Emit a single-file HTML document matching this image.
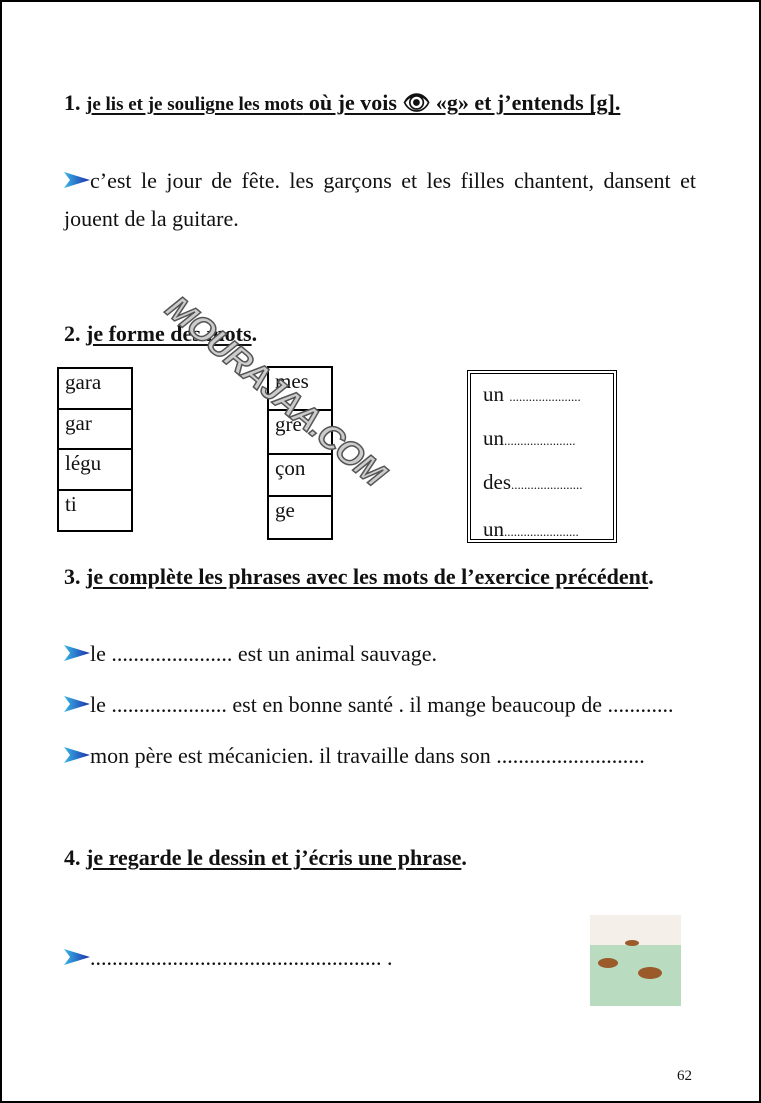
<!DOCTYPE html><html><head><meta charset="utf-8"><style>
body{margin:0;width:761px;height:1103px;position:relative;background:#fff;font-family:"Liberation Serif","Tinos","Times New Roman",Times,serif;color:#111;overflow:hidden}
.frame{position:absolute;left:0;top:0;width:757px;height:1099px;border:2px solid #000}
.a{position:absolute;white-space:nowrap}
.h{font-weight:bold;font-size:22px}
.h u{text-decoration-thickness:2px;text-underline-offset:3px}
.t{font-size:22px}
.arr{display:inline-block;width:26px;height:16px;vertical-align:0px}
table{position:absolute;border-collapse:collapse}
td{border:2px solid #000;font-size:21px;vertical-align:top;padding:1px 6px;box-sizing:border-box;font-family:inherit}
.box{position:absolute;left:467px;top:370px;width:150px;height:173px;border:4px double #000;box-sizing:border-box;font-size:21px}
.box div{position:absolute;left:12px}
.box span{font-size:13px}
.wm{position:absolute;left:125px;top:372px;width:300px;text-align:center;transform:rotate(40deg);font:bold italic 34px "Liberation Sans",sans-serif;color:#ccc;-webkit-text-stroke:1.5px #555;letter-spacing:-1px}
</style></head><body><div class="frame"></div>
<svg width="0" height="0" style="position:absolute"><defs><linearGradient id="g" x1="0" x2="1"><stop offset="0" stop-color="#3bb6e8"/><stop offset="1" stop-color="#1a2fa8"/></linearGradient></defs></svg>
<div class="a h" style="left:64px;top:90px"><span style="font-size:22px">1.</span>&nbsp;<u><span style="font-size:19px">je lis et je souligne les mots</span> où je vois 👁 «g» et j’entends [g].</u></div>
<div class="a t" style="left:64px;top:168px;width:632px;text-align:justify;text-align-last:justify"><svg class="arr" viewBox="0 0 26 16"><path d="M0 0 L26 8 L0 16 L6 8Z" fill="url(#g)"/></svg>c’est le jour de fête. les garçons et les filles chantent, dansent et</div>
<div class="a t" style="left:64px;top:206px">jouent de la guitare.</div>
<div class="a h" style="left:64px;top:321px"><span>2.</span>&nbsp;<u>je forme des mots</u>.</div>
<table style="left:57px;top:367px;width:76px"><tr><td style="height:41px">gara</td></tr><tr><td style="height:40px">gar</td></tr><tr><td style="height:41px">légu</td></tr><tr><td style="height:41px">ti</td></tr></table>
<table style="left:267px;top:366px;width:66px"><tr><td style="height:43px">mes</td></tr><tr><td style="height:44px">gre</td></tr><tr><td style="height:42px">çon</td></tr><tr><td style="height:43px">ge</td></tr></table>
<div class="box"><div style="top:8px">un <span>......................</span></div><div style="top:52px">un<span>......................</span></div><div style="top:96px">des<span>......................</span></div><div style="top:143px">un<span>.......................</span></div></div>
<div class="wm">MOURAJAA.COM</div>
<div class="a h" style="left:64px;top:564px"><span>3.</span>&nbsp;<u>je complète les phrases avec les mots de l’exercice précédent</u>.</div>
<div class="a t" style="left:64px;top:641px"><svg class="arr" viewBox="0 0 26 16"><path d="M0 0 L26 8 L0 16 L6 8Z" fill="url(#g)"/></svg>le ...................... est un animal sauvage.</div>
<div class="a t" style="left:64px;top:692px"><svg class="arr" viewBox="0 0 26 16"><path d="M0 0 L26 8 L0 16 L6 8Z" fill="url(#g)"/></svg>le ..................... est en bonne santé . il mange beaucoup de ............</div>
<div class="a t" style="left:64px;top:743px"><svg class="arr" viewBox="0 0 26 16"><path d="M0 0 L26 8 L0 16 L6 8Z" fill="url(#g)"/></svg>mon père est mécanicien. il travaille dans son ...........................</div>
<div class="a h" style="left:64px;top:845px"><span>4.</span>&nbsp;<u>je regarde le dessin et j’écris une phrase</u>.</div>
<div class="a t" style="left:64px;top:945px"><svg class="arr" viewBox="0 0 26 16"><path d="M0 0 L26 8 L0 16 L6 8Z" fill="url(#g)"/></svg>..................................................... .</div>
<svg class="a" style="left:590px;top:915px" width="91" height="91" viewBox="0 0 91 91"><rect width="91" height="91" fill="#f4efe8"/><rect y="30" width="91" height="61" fill="#b9dcc0"/><ellipse cx="18" cy="48" rx="10" ry="5" fill="#9a5a2a"/><ellipse cx="60" cy="58" rx="12" ry="6" fill="#9a5a2a"/><ellipse cx="42" cy="28" rx="7" ry="3" fill="#9a5a2a"/></svg>
<div class="a" style="left:677px;top:1068px;font-size:15px">62</div>
</body></html>
